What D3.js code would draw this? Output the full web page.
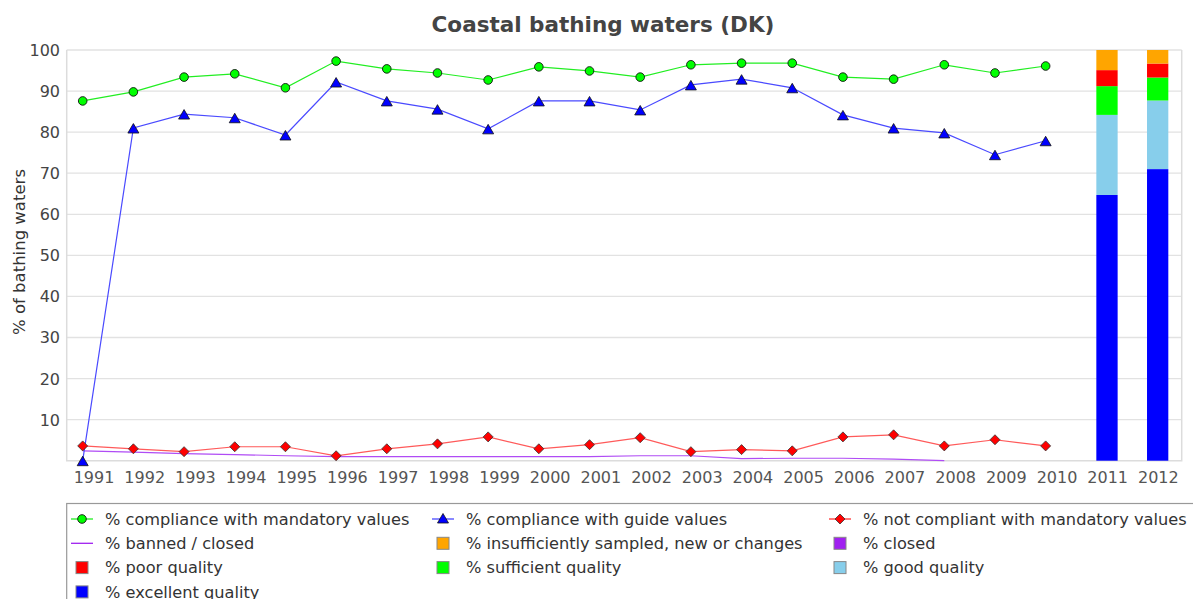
<!DOCTYPE html>
<html>
<head>
<meta charset="utf-8">
<script src="https://cdn.jsdelivr.net/npm/d3@7"></script>
<style>
  body { margin: 0; background: #fff; }
  text { font-family: "DejaVu Sans", sans-serif; }
</style>
</head>
<body>
<svg id="chart"></svg>
<script>
const width = 1193;
const height = 599;

// years on the category axis
const years = [1991, 1992, 1993, 1994, 1995, 1996, 1997, 1998, 1999, 2000,
    2001, 2002, 2003, 2004, 2005, 2006, 2007, 2008, 2009, 2010, 2011, 2012];
const lineYears = years.slice(0, 20);

// line series (1991-2010)
const mandatory = [87.6, 89.8, 93.4, 94.2, 90.8, 97.3, 95.4, 94.4, 92.7, 95.9,
    94.9, 93.4, 96.4, 96.8, 96.8, 93.4, 92.9, 96.4, 94.4, 96.1];
const guide = [0, 81.0, 84.4, 83.5, 79.3, 92.2, 87.6, 85.6, 80.8, 87.6,
    87.6, 85.4, 91.5, 92.9, 90.8, 84.2, 81.0, 79.8, 74.5, 77.9];
const notCompliant = [3.6, 2.9, 2.2, 3.4, 3.4, 1.2, 2.9, 4.1, 5.8, 2.9,
    3.9, 5.6, 2.2, 2.7, 2.4, 5.8, 6.3, 3.6, 5.1, 3.6];
const banned = [2.4, 2.1, 1.7, 1.5, 1.2, 1.0, 1.0, 1.0, 1.0, 1.0,
    1.0, 1.2, 1.2, 0.5, 0.6, 0.6, 0.4, 0];

// stacked bars (2011, 2012), bottom to top
const barYears = [2011, 2012];
const excellent = [64.7, 71.0];
const good = [19.5, 16.7];
const sufficient = [7.0, 5.6];
const poor = [3.9, 3.4];
const closed = [0, 0];
const insufficient = [4.9, 3.3];

const svg = d3.select("#chart").attr("width", width).attr("height", height);

const plotLeft = 66.7, plotRight = 1181.7, plotTop = 50, plotBottom = 460.7;

const x = d3.scaleBand().domain(years).range([plotLeft, plotRight]).padding(0);
const y = d3.scaleLinear().domain([0, 100]).range([plotBottom, plotTop]);
const px = d => x(d) + 16;

// title
svg.append("text")
    .attr("x", 603).attr("y", 32)
    .attr("text-anchor", "middle")
    .style("font-weight", "bold").style("font-size", "21.5px")
    .attr("fill", "#444")
    .text("Coastal bathing waters (DK)");

// grid
svg.append("g")
    .selectAll("line")
    .data(d3.range(10, 101, 10))
    .join("line")
    .attr("x1", plotLeft).attr("x2", plotRight)
    .attr("y1", d => y(d)).attr("y2", d => y(d))
    .attr("stroke", "#e2e2e2").attr("stroke-width", 1.3);

// plot border
svg.append("path")
    .attr("d", `M${plotLeft},${plotTop}V${plotBottom}H${plotRight}V${plotTop}`)
    .attr("fill", "none").attr("stroke", "#dcdcdc").attr("stroke-width", 1.5);

// y ticks
svg.append("g")
    .selectAll("text")
    .data(d3.range(10, 101, 10))
    .join("text")
    .attr("x", 60).attr("y", d => y(d) + 6)
    .attr("text-anchor", "end")
    .style("font-size", "16px").attr("fill", "#444")
    .text(d => d);

svg.append("text")
    .attr("transform", `translate(25,252) rotate(-90)`)
    .attr("text-anchor", "middle")
    .style("font-size", "16.5px").attr("fill", "#333")
    .text("% of bathing waters");

// x labels
svg.append("g")
    .selectAll("text")
    .data(years)
    .join("text")
    .attr("x", d => x(d) + x.bandwidth() / 2 + 2)
    .attr("y", 483)
    .attr("text-anchor", "middle")
    .style("font-size", "16px").attr("fill", "#555")
    .text(d => d);

// stacked bars
const stackSeries = [
    { name: "excellent", values: excellent, color: "#0000ff" },
    { name: "good", values: good, color: "#87ceeb" },
    { name: "sufficient", values: sufficient, color: "#00ff00" },
    { name: "poor", values: poor, color: "#ff0000" },
    { name: "closed", values: closed, color: "#a020f0" },
    { name: "insufficient", values: insufficient, color: "#ffa500" }
];
const barRows = barYears.map((yr, i) => {
    const row = { year: yr };
    stackSeries.forEach(s => row[s.name] = s.values[i]);
    return row;
});
const stacked = d3.stack().keys(stackSeries.map(s => s.name))(barRows);
svg.append("g")
    .selectAll("g")
    .data(stacked)
    .join("g")
    .attr("fill", (d, i) => stackSeries[i].color)
    .selectAll("rect")
    .data(d => d)
    .join("rect")
    .attr("x", d => px(d.data.year))
    .attr("width", 21.3)
    .attr("y", d => y(Math.min(100, d[1])))
    .attr("height", d => y(d[0]) - y(Math.min(100, d[1])));

// lines
const lineGen = d3.line().x(d => px(d[0])).y(d => y(d[1]));
function drawLine(vals, color) {
    svg.append("path")
        .datum(vals.map((v, i) => [lineYears[i], v]))
        .attr("fill", "none").attr("stroke", color).attr("stroke-width", 1.2)
        .attr("d", lineGen);
}
drawLine(banned, "#b04cf5");
drawLine(notCompliant, "#ff5a5a");
drawLine(guide, "#4a4aff");
drawLine(mandatory, "#22ee22");

const diamond = "M0,-5L5,0L0,5L-5,0Z";
const triangle = "M0,-5.5L5.5,4L-5.5,4Z";

svg.append("g").selectAll("path")
    .data(notCompliant)
    .join("path")
    .attr("transform", (d, i) => `translate(${px(lineYears[i])},${y(d)})`)
    .attr("d", diamond).attr("fill", "#ff0000").attr("stroke", "#333").attr("stroke-width", 0.8);

svg.append("g").selectAll("path")
    .data(guide)
    .join("path")
    .attr("transform", (d, i) => `translate(${px(lineYears[i])},${y(d) + 1})`)
    .attr("d", triangle).attr("fill", "#0000ff").attr("stroke", "#111").attr("stroke-width", 0.8);

svg.append("g").selectAll("circle")
    .data(mandatory)
    .join("circle")
    .attr("cx", (d, i) => px(lineYears[i])).attr("cy", d => y(d))
    .attr("r", 4.3).attr("fill", "#00ff00").attr("stroke", "#111").attr("stroke-width", 0.9);

// legend
const legend = svg.append("g");
legend.append("rect")
    .attr("x", 66.7).attr("y", 503.5).attr("width", 1140).attr("height", 110)
    .attr("fill", "#fff").attr("stroke", "#999").attr("stroke-width", 1.2);

const legendItems = [
    { label: "% compliance with mandatory values", kind: "circle", color: "#00ff00", line: "#22ee22" },
    { label: "% compliance with guide values", kind: "triangle", color: "#0000ff", line: "#4a4aff" },
    { label: "% not compliant with mandatory values", kind: "diamond", color: "#ff0000", line: "#ff3333" },
    { label: "% banned / closed", kind: "line", line: "#a020f0" },
    { label: "% insufficiently sampled, new or changes", kind: "square", color: "#ffa500" },
    { label: "% closed", kind: "square", color: "#a020f0" },
    { label: "% poor quality", kind: "square", color: "#ff0000" },
    { label: "% sufficient quality", kind: "square", color: "#00ff00" },
    { label: "% good quality", kind: "square", color: "#87ceeb" },
    { label: "% excellent quality", kind: "square", color: "#0000ff" }
];
const colX = [82, 443, 840];
legendItems.forEach((it, i) => {
    const cx = colX[i % 3], cy = 519 + Math.floor(i / 3) * 24.3;
    const g = legend.append("g").attr("transform", `translate(${cx},${cy})`);
    if (it.kind !== "square") {
        g.append("line").attr("x1", -11).attr("x2", 11).attr("stroke", it.line).attr("stroke-width", 1.3);
    }
    if (it.kind === "circle") {
        g.append("circle").attr("r", 4.3).attr("fill", it.color).attr("stroke", "#111").attr("stroke-width", 0.9);
    } else if (it.kind === "triangle") {
        g.append("path").attr("d", triangle).attr("fill", it.color).attr("stroke", "#111").attr("stroke-width", 0.8);
    } else if (it.kind === "diamond") {
        g.append("path").attr("d", diamond).attr("fill", it.color).attr("stroke", "#333").attr("stroke-width", 0.8);
    } else if (it.kind === "square") {
        g.append("rect").attr("x", -6).attr("y", -6).attr("width", 12).attr("height", 12)
            .attr("fill", it.color).attr("stroke", "#888").attr("stroke-width", 1);
    }
    g.append("text")
        .attr("x", 23).attr("y", 5.8)
        .style("font-size", "16.2px").attr("fill", "#333")
        .text(it.label);
});
</script>
</body>
</html>
